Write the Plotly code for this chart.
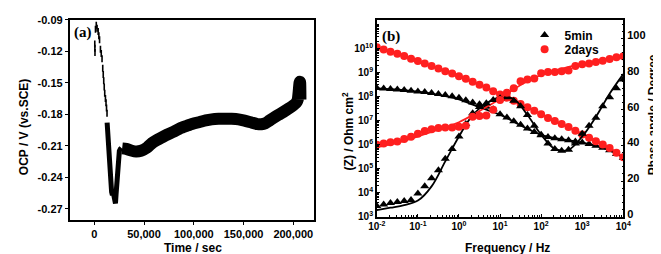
import plotly.graph_objects as go

# ---------------- Panel (a): OCP vs time ----------------
t_early = [500, 600, 700, 1200, 2000, 2800, 3900, 4600, 5300, 6200, 7000, 7800, 8500, 9000, 9500, 10000, 10500, 11200, 11800, 12300, 12800]
v_early = [-0.113, -0.117, -0.121, -0.099, -0.095, -0.098, -0.101, -0.105, -0.109, -0.118, -0.122, -0.127, -0.136, -0.142, -0.148, -0.154, -0.160, -0.165, -0.169, -0.174, -0.179]

t_dip = [12900, 13500, 14200, 15000, 15800, 16600, 17400, 18200, 19000, 19800, 20600, 21300, 21900, 22500, 23100, 23700, 24400, 25200, 26200, 27200]
v_dip = [-0.188, -0.198, -0.212, -0.226, -0.238, -0.247, -0.254, -0.257, -0.252, -0.258, -0.262, -0.265, -0.256, -0.245, -0.236, -0.228, -0.220, -0.215, -0.213, -0.212]

t_main = [28000, 32000, 37000, 42000, 47000, 53000, 58000, 63000, 68000, 73000, 80000,
          86000, 93000, 99000, 106000, 112000, 118000, 125000, 132000, 138000, 145000,
          151000, 158000, 164000, 168000, 172000, 176000, 180000, 185000, 190000, 195000,
          200000, 203000, 204500, 205500, 206300, 206800, 207200]
v_main = [-0.2125, -0.213, -0.2145, -0.2155, -0.2148, -0.2118, -0.2075, -0.2045, -0.202, -0.1995, -0.1965,
          -0.1935, -0.191, -0.189, -0.1873, -0.1858, -0.1848, -0.1843, -0.1842, -0.1843, -0.1848,
          -0.186, -0.1878, -0.1893, -0.1895, -0.1885, -0.186, -0.1835, -0.1805, -0.1778, -0.1748,
          -0.1715, -0.169, -0.166, -0.158, -0.150, -0.149, -0.166]

ocp_ticks = [-0.27, -0.24, -0.21, -0.18, -0.15, -0.12, -0.09]
ocp_ticktext = ["-0.27", "-0.24", "-0.21", "-0.18", "-0.15", "-0.12", "-0.09"]
time_ticks = [0, 50000, 100000, 150000, 200000]
time_ticktext = ["0", "50,000", "100,000", "150,000", "200,000"]

# ---------------- Panel (b): EIS Bode ----------------
freq = [0.01, 0.01468, 0.02154, 0.03162, 0.04642, 0.06813,
        0.1, 0.1468, 0.2154, 0.3162, 0.4642, 0.6813,
        1, 1.468, 2.154, 3.162, 4.642, 6.813,
        10, 14.68, 21.54, 31.62, 46.42, 68.13,
        100, 146.8, 215.4, 316.2, 464.2, 681.3,
        1000, 1468, 2154, 3162, 4642, 6813, 10000]

z_5min = [2.24e8, 2.14e8, 2.04e8, 1.95e8, 1.86e8, 1.74e8,
          1.62e8, 1.51e8, 1.38e8, 1.26e8, 1.15e8, 1.02e8,
          8.9e7, 6.9e7, 5.6e7, 4.68e7, 3.72e7, 2.95e7,
          1.82e7, 1.32e7, 9.33e6, 6.61e6, 4.68e6, 3.31e6,
          2.40e6, 2.04e6, 1.82e6, 1.66e6, 1.51e6, 1.35e6,
          1.20e6, 1.05e6, 8.91e5, 7.41e5, 5.75e5, 4.07e5, 2.82e5]
phase_5min = [6.0, 6.8, 7.6, 8.2, 8.8, 9.3,
              13.0, 17.0, 21.5, 26.0, 32.5, 38.0,
              45.0, 52.0, 58.0, 61.5, 63.7, 65.5,
              66.5, 67.0, 65.0, 62.0, 57.0, 51.0,
              46.0, 41.0, 38.0, 37.0, 37.5, 41.0,
              46.5, 51.0, 55.5, 62.0, 67.0, 72.0, 77.0]
z_2days = [1.10e10, 8.91e9, 7.24e9, 5.89e9, 4.79e9, 3.72e9,
           2.95e9, 2.34e9, 1.86e9, 1.45e9, 1.12e9, 8.91e8,
           6.92e8, 5.37e8, 4.07e8, 3.09e8, 2.34e8, 1.66e8,
           1.20e8, 8.91e7, 6.61e7, 4.79e7, 3.55e7, 2.51e7,
           1.82e7, 1.26e7, 9.55e6, 7.08e6, 5.37e6, 3.72e6,
           2.63e6, 1.91e6, 1.38e6, 1.00e6, 7.24e5, 4.57e5, 2.95e5]
phase_2days = [40.4, 41.0, 41.7, 42.2, 43.6, 44.9,
               46.5, 48.0, 49.0, 49.7, 50.0, 50.0,
               50.5, 51.0, 56.0, 56.5, 56.8, 60.0,
               65.5, 69.5, 72.0, 76.0, 77.0, 77.5,
               80.5, 81.2, 81.2, 81.6, 82.0, 84.5,
               85.5, 86.0, 86.8, 87.5, 88.5, 89.5, 90.0]

freq_fit = [0.01, 0.02154, 0.04642, 0.1, 0.2154, 0.4642, 1, 2.154, 4.642, 10,
            21.54, 46.42, 100, 215.4, 464.2, 1000, 2154, 4642, 10000]
z_5min_fit = [2.14e8, 2.00e8, 1.82e8, 1.58e8, 1.32e8, 1.02e8, 7.59e7, 4.57e7, 2.82e7, 1.74e7,
              8.91e6, 4.47e6, 2.51e6, 1.86e6, 1.51e6, 1.20e6, 8.91e5, 5.62e5, 2.82e5]
phase_5min_fit = [3.6, 5.0, 6.5, 9.0, 17.0, 31.0, 45.0, 57.0, 63.5, 67.0,
                  66.0, 57.0, 46.0, 38.0, 37.5, 45.0, 56.0, 69.0, 80.0]
z_2days_fit = [1.05e10, 7.08e9, 4.68e9, 2.95e9, 1.82e9, 1.12e9, 6.92e8, 4.07e8, 2.29e8, 1.20e8,
               6.46e7, 3.47e7, 1.82e7, 9.55e6, 5.25e6, 2.63e6, 1.38e6, 7.08e5, 2.95e5]
phase_2days_fit = [39.0, 40.5, 42.5, 45.0, 47.5, 50.0, 53.0, 57.0, 61.5, 66.0,
                   71.5, 76.0, 79.5, 82.0, 84.0, 85.8, 87.2, 88.5, 89.5]

freq_ticks = [0.01, 0.1, 1, 10, 100, 1000, 10000]
freq_ticktext = ["10<sup>-2</sup>", "10<sup>-1</sup>", "10<sup>0</sup>", "10<sup>1</sup>",
                 "10<sup>2</sup>", "10<sup>3</sup>", "10<sup>4</sup>"]
z_ticks = [1e3, 1e4, 1e5, 1e6, 1e7, 1e8, 1e9, 1e10]
z_ticktext = ["10<sup>3</sup>", "10<sup>4</sup>", "10<sup>5</sup>", "10<sup>6</sup>",
              "10<sup>7</sup>", "10<sup>8</sup>", "10<sup>9</sup>", "10<sup>10</sup>"]
phase_ticks = [0, 20, 40, 60, 80, 100]

RED = "#ff1f1f"
W, H = 661, 254

fig = go.Figure()

# Panel a traces
fig.add_trace(go.Scatter(x=t_early, y=v_early, mode="markers", xaxis="x", yaxis="y",
                         marker=dict(symbol="line-ns", size=5, line=dict(width=1.6, color="black")),
                         showlegend=False))
fig.add_trace(go.Scatter(x=t_dip, y=v_dip, mode="lines", xaxis="x", yaxis="y",
                         line=dict(color="black", width=5), showlegend=False))
fig.add_trace(go.Scatter(x=t_main, y=v_main, mode="lines", xaxis="x", yaxis="y",
                         line=dict(color="black", width=12, shape="spline", smoothing=0.6),
                         showlegend=False))

# Panel b fits
fig.add_trace(go.Scatter(x=freq_fit, y=z_5min_fit, mode="lines", xaxis="x2", yaxis="y2",
                         line=dict(color="black", width=1.8, shape="spline"), showlegend=False))
fig.add_trace(go.Scatter(x=freq_fit, y=z_2days_fit, mode="lines", xaxis="x2", yaxis="y2",
                         line=dict(color=RED, width=1.8, shape="spline"), showlegend=False))
fig.add_trace(go.Scatter(x=freq_fit, y=phase_5min_fit, mode="lines", xaxis="x2", yaxis="y3",
                         line=dict(color="black", width=1.8, shape="spline"), showlegend=False))
fig.add_trace(go.Scatter(x=freq_fit, y=phase_2days_fit, mode="lines", xaxis="x2", yaxis="y3",
                         line=dict(color=RED, width=1.8, shape="spline"), showlegend=False))

# Panel b data
fig.add_trace(go.Scatter(x=freq, y=z_5min, mode="markers", xaxis="x2", yaxis="y2", name="5min",
                         marker=dict(symbol="triangle-up", size=8, color="black"), legend="legend"))
fig.add_trace(go.Scatter(x=freq, y=z_2days, mode="markers", xaxis="x2", yaxis="y2", name="2days",
                         marker=dict(symbol="circle", size=8, color=RED), legend="legend2"))
fig.add_trace(go.Scatter(x=freq, y=phase_5min, mode="markers", xaxis="x2", yaxis="y3",
                         marker=dict(symbol="triangle-up", size=8, color="black"), showlegend=False))
fig.add_trace(go.Scatter(x=freq, y=phase_2days, mode="markers", xaxis="x2", yaxis="y3",
                         marker=dict(symbol="circle", size=8, color=RED), showlegend=False))

FONT = "Liberation Sans, Arial, sans-serif"
tickfont = dict(family=FONT, size=11, color="black", weight="bold")
tickfont_small = dict(family=FONT, size=10, color="black", weight="bold")
titlefont = dict(family=FONT, size=12, color="black", weight="bold")

def px(xp):
    return xp / W

def py(yp):
    return (H - yp) / H

axis_base = dict(showline=True, linecolor="black", linewidth=1.5, mirror=True,
                 showgrid=False, zeroline=False, ticklen=3,
                 tickwidth=1.2, tickcolor="black")

legend_common = dict(xanchor="left", yanchor="middle", bgcolor="rgba(0,0,0,0)",
                     font=dict(family=FONT, size=12, color="black", weight="bold"),
                     itemsizing="trace", borderwidth=0)

fig.update_layout(
    width=W, height=H,
    margin=dict(l=0, r=0, t=0, b=0),
    paper_bgcolor="white", plot_bgcolor="white",
    xaxis=dict(domain=[px(54), px(305)], range=[-24800, 221000], anchor="y",
               tickvals=time_ticks, ticktext=time_ticktext, ticks="outside",
               tickfont=tickfont, **axis_base),
    yaxis=dict(domain=[py(216), py(6)], range=[-0.2806, -0.0898], anchor="x",
               tickvals=ocp_ticks, ticktext=ocp_ticktext, ticks="outside",
               tickfont=tickfont, **axis_base),
    xaxis2=dict(domain=[px(369.3), px(622.3)], type="log", range=[-2, 4], anchor="y2",
                tickvals=freq_ticks, ticktext=freq_ticktext, ticks="inside",
                tickfont=tickfont_small,
                minor=dict(ticks="inside", ticklen=2, dtick="D1", tickcolor="black"),
                **axis_base),
    yaxis2=dict(domain=[py(212.7), py(6)], type="log", range=[3, 11.19], anchor="x2",
                tickvals=z_ticks, ticktext=z_ticktext, ticks="inside",
                tickfont=tickfont_small,
                minor=dict(ticks="inside", ticklen=2, dtick="D1", tickcolor="black"),
                **axis_base),
    yaxis3=dict(domain=[py(212.7), py(6)], range=[0, 110.5], anchor="x2", overlaying="y2",
                side="right", tickvals=phase_ticks, ticks="inside", ticklabelshift=-3,
                minor=dict(ticks="inside", ticklen=2, dtick=4, tickcolor="black"),
                showline=True, linecolor="black", linewidth=1.5, showgrid=False, zeroline=False,
                tickfont=tickfont, ticklen=3, tickwidth=1.2, tickcolor="black"),
    legend=dict(x=px(521), y=py(22), **legend_common),
    legend2=dict(x=px(521), y=py(37), **legend_common),
    showlegend=True,
)

annotations = [
    dict(text="OCP / V (vs.SCE)", x=px(8), y=py(119), textangle=-90, font=titlefont),
    dict(text="Time / sec", x=px(181), y=py(246), font=titlefont),
    dict(text="Frequency / Hz", x=px(503), y=py(246), font=titlefont),
    dict(text="(Z) / Ohm cm<sup>2</sup>", x=px(340), y=py(123), textangle=-90, font=titlefont),
    dict(text="Phase angle / Degree", x=px(653), y=py(106), textangle=-90, font=titlefont),
    dict(text="(a)", x=px(68), y=py(19),
         font=dict(family="Liberation Serif, Times New Roman, serif", size=15, color="black", weight="bold")),
    dict(text="(b)", x=px(383.5), y=py(24),
         font=dict(family="Liberation Serif, Times New Roman, serif", size=15, color="black", weight="bold")),
]
for a in annotations:
    a.update(xref="paper", yref="paper", showarrow=False, xanchor="center", yanchor="middle")
fig.update_layout(annotations=annotations)

fig.write_html("out.html")
